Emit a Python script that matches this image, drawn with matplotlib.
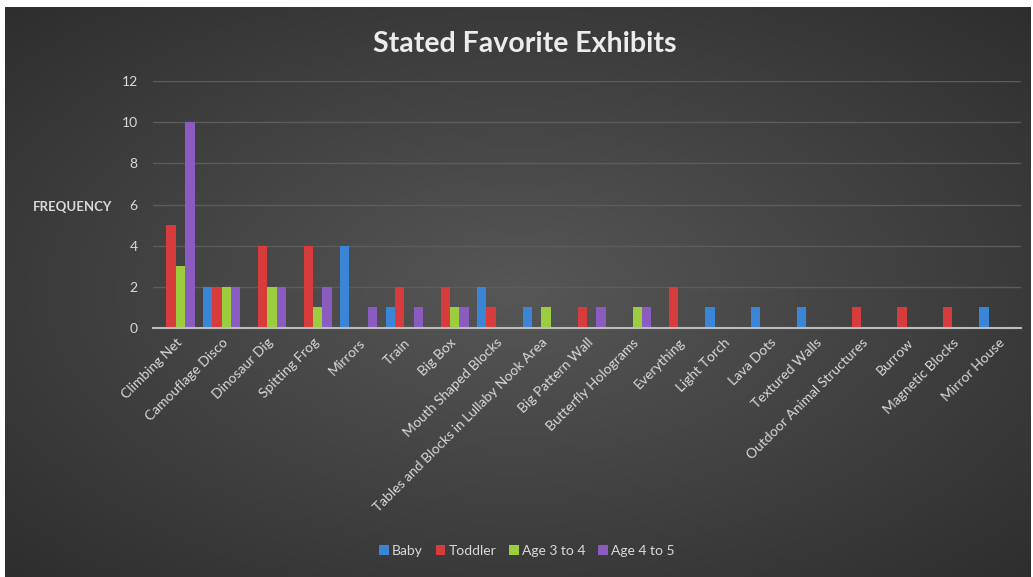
import numpy as np
import matplotlib.pyplot as plt

exhibits = ["Climbing Net", "Camouflage Disco", "Dinosaur Dig", "Spitting Frog",
            "Mirrors", "Train", "Big Box", "Mouth Shaped Blocks",
            "Tables and Blocks in Lullaby Nook Area", "Big Pattern Wall",
            "Butterfly Holograms", "Everything", "Light Torch", "Lava Dots",
            "Textured Walls", "Outdoor Animal Structures", "Burrow",
            "Magnetic Blocks", "Mirror House"]

baby     = [0, 2, 0, 0, 4, 1, 0, 2, 1, 0, 0, 0, 1, 1, 1, 0, 0, 0, 1]
toddler  = [5, 2, 4, 4, 0, 2, 2, 1, 0, 1, 0, 2, 0, 0, 0, 1, 1, 1, 0]
age3to4  = [3, 2, 2, 1, 0, 0, 1, 0, 1, 0, 1, 0, 0, 0, 0, 0, 0, 0, 0]
age4to5  = [10, 2, 2, 2, 1, 1, 1, 0, 0, 1, 1, 0, 0, 0, 0, 0, 0, 0, 0]

series = [("Baby", baby, "#3a85d6"),
          ("Toddler", toddler, "#d83b3b"),
          ("Age 3 to 4", age3to4, "#9ccd3f"),
          ("Age 4 to 5", age4to5, "#8b5cc0")]

plt.rcParams['font.family'] = ['Lato', 'DejaVu Sans']
txt = "#d9d9d9"

W, H = 1033, 577
fig = plt.figure(figsize=(W / 100, H / 100), dpi=100, facecolor="white")

# dark radial-gradient panel
bg = fig.add_axes([5 / W, 0, (W - 7) / W, (H - 7) / H])
bg.set_axis_off()
yy, xx = np.mgrid[0:1:300j, 0:1:600j]
r = np.sqrt(((xx - 0.5) / 0.75) ** 2 + ((yy - 0.5) / 0.75) ** 2)
shade = np.clip(0.34 - 0.17 * r, 0.16, 0.35)
bg.imshow(np.dstack([shade] * 3), extent=[0, 1, 0, 1], aspect="auto", interpolation="bicubic")

ax = fig.add_axes([153 / W, 1 - 328 / H, 868 / W, 247 / H])
ax.patch.set_alpha(0)

x = np.arange(len(exhibits))
bw = 0.205
for i, (name, vals, col) in enumerate(series):
    ax.bar(x + (i - 1.5) * bw, vals, width=bw, color=col, label=name, zorder=3)

ax.set_xlim(-0.5, len(exhibits) - 0.5)
ax.set_ylim(0, 12)
ax.set_yticks(range(0, 13, 2))
ax.grid(axis="y", color="#5c5c5c", linewidth=1, zorder=0)
for s in ["top", "right", "left"]:
    ax.spines[s].set_visible(False)
ax.spines["bottom"].set_color("#bcbcbc")
ax.spines["bottom"].set_linewidth(1.5)
ax.spines["bottom"].set_zorder(4)
ax.tick_params(axis="both", length=0, colors=txt, labelsize=10)
ax.tick_params(axis="y", pad=11)
ax.set_xticks(x)
ax.set_xticklabels(exhibits, rotation=45, ha="right", rotation_mode="anchor")
ax.tick_params(axis="x", pad=6)

fig.text(112 / W, 1 - 207 / H, "FREQUENCY", color=txt, fontsize=9.5,
         fontweight="bold", ha="right", va="center")
fig.text(525 / W, 1 - 44 / H, "Stated Favorite Exhibits", color="#ececec",
         fontsize=20.5, fontweight="bold", ha="center", va="center")

fig.legend(loc="center", bbox_to_anchor=(527 / W, 1 - 551 / H), ncol=4,
           frameon=False, fontsize=10, labelcolor=txt, handlelength=0.7,
           handleheight=0.7, handletextpad=0.25, columnspacing=0.9)

fig.savefig("out.png", dpi=100, facecolor="white")
